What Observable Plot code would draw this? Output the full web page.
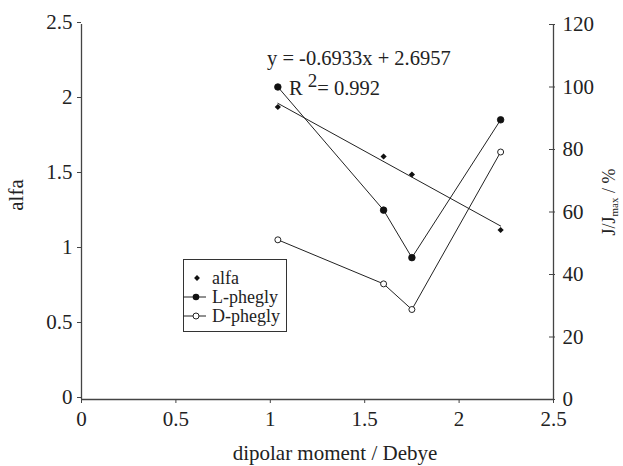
<!DOCTYPE html>
<html><head><meta charset="utf-8">
<script src="https://cdn.jsdelivr.net/npm/d3@7"></script>
<script src="https://cdn.jsdelivr.net/npm/@observablehq/plot@0.6"></script>
<style>body{margin:0;background:#fff} svg{display:block} svg text{font-family:"Liberation Serif","Times New Roman",Times,serif !important}</style>
</head><body><div id="chart"></div>
<script>
const dipole = [1.04, 1.60, 1.75, 2.22];
const alfa = [1.95, 1.62, 1.50, 1.13];
const lPhegly = [100, 60.6, 45.4, 89.5];
const dPhegly = [51.1, 37.0, 28.8, 79.2];
const xTicks = [0, 0.5, 1, 1.5, 2, 2.5];
const yLeftTicks = [0, 0.5, 1, 1.5, 2, 2.5];
const yRightTicks = [0, 20, 40, 60, 80, 100, 120];
const slope = -0.6933, intercept = 2.6957, rSquared = 0.992;
const seriesNames = ["alfa", "L-phegly", "D-phegly"];

const W = 623, H = 466, ML = 81, MR = 70, MT = 24, MB = 67;
const k = 2.5 / 120; // right axis (%) -> left axis units
const FONT = '"Liberation Serif", "Times New Roman", Times, serif';
const INK = "#222";
const fmt = d => String(+d.toFixed(4));

const alfaData = dipole.map((x, i) => ({x, y: alfa[i]}));
const lData = dipole.map((x, i) => ({x, y: lPhegly[i] * k}));
const dData = dipole.map((x, i) => ({x, y: dPhegly[i] * k}));
const xMin = d3.min(dipole), xMax = d3.max(dipole);
const trend = [xMin, xMax].map(x => ({x, y: slope * x + intercept}));

const plot = Plot.plot({
  width: W, height: H,
  marginLeft: ML, marginRight: MR, marginTop: MT, marginBottom: MB,
  style: {fontFamily: FONT, background: "#fff", color: INK},
  x: {domain: [0, 2.5]},
  y: {domain: [0, 2.5]},
  marks: [
    Plot.axisX({ticks: xTicks, tickFormat: fmt, tickSize: 4, tickPadding: 8, fontSize: 21, fontFamily: FONT, label: null, stroke: "#444", fill: INK}),
    Plot.axisY({anchor: "left", ticks: yLeftTicks, tickFormat: fmt, tickSize: 4, tickPadding: 5, fontSize: 21, fontFamily: FONT, label: null, dy: -2, stroke: "#444", fill: INK}),
    Plot.axisY({anchor: "right", ticks: yRightTicks.map(v => v * k), tickFormat: d => Math.round(d / k), tickSize: 1, tickPadding: 8, fontSize: 21, fontFamily: FONT, label: null, stroke: "#444", fill: INK}),
    Plot.tickY(yRightTicks.map(v => v * k), {y: d => d, insetLeft: W - ML - MR - 4, stroke: "#444"}),
    Plot.ruleY([0], {stroke: "#444", strokeWidth: 1.3}),
    Plot.ruleX([0, 2.5], {stroke: "#444", strokeWidth: 1.3}),
    Plot.line(trend, {x: "x", y: "y", stroke: INK, strokeWidth: 1}),
    Plot.line(lData, {x: "x", y: "y", stroke: INK, strokeWidth: 1}),
    Plot.line(dData, {x: "x", y: "y", stroke: INK, strokeWidth: 1}),
    Plot.dot(alfaData, {x: "x", y: "y", symbol: "diamond2", r: 2.8, fill: "#111", stroke: "none"}),
    Plot.dot(lData, {x: "x", y: "y", r: 3.3, fill: "#111", stroke: "#111", strokeWidth: 0.8}),
    Plot.dot(dData, {x: "x", y: "y", r: 3, fill: "#fff", stroke: INK, strokeWidth: 1})
  ]
});
document.getElementById("chart").append(plot);

const svg = d3.select(plot);
const addText = (sel) => sel.attr("font-family", FONT).attr("fill", INK);
// axis titles
addText(svg.append("text")).attr("transform", "translate(23,195) rotate(-90)")
  .attr("text-anchor", "middle").attr("font-size", 21).text("alfa");
addText(svg.append("text")).attr("x", 335).attr("y", 460)
  .attr("text-anchor", "middle").attr("font-size", 21).text("dipolar moment / Debye");
const rt = addText(svg.append("text")).attr("transform", "translate(615,202) rotate(-90)")
  .attr("text-anchor", "middle").attr("font-size", 18);
rt.append("tspan").text("J/J");
rt.append("tspan").attr("font-size", 11).attr("dy", 3).text("max");
rt.append("tspan").attr("dy", -3).text(" / %");

// regression annotation
addText(svg.append("text")).attr("x", 267).attr("y", 65).attr("text-anchor", "start").attr("font-size", 20.5)
  .text(`y = ${slope}x + ${intercept}`);
const r2 = addText(svg.append("text")).attr("x", 289).attr("y", 95).attr("text-anchor", "start").attr("font-size", 20.5);
r2.append("tspan").text("R ");
r2.append("tspan").attr("dy", -8).attr("font-size", 19).text("2");
r2.append("tspan").attr("dy", 8).text("= " + rSquared);

// legend
const lg = svg.append("g").attr("font-family", FONT).attr("font-size", 18).attr("fill", INK).attr("text-anchor", "start");
lg.append("rect").attr("x", 183.5).attr("y", 259.5).attr("width", 103).attr("height", 72)
  .attr("fill", "#fff").attr("stroke", "#333").attr("stroke-width", 1);
const rows = [278, 297, 316];
seriesNames.forEach((name, i) => {
  const yy = rows[i];
  if (i > 0) lg.append("line").attr("x1", 183).attr("x2", 206).attr("y1", yy).attr("y2", yy).attr("stroke", INK);
  if (i === 0) lg.append("path").attr("d", d3.symbol(d3.symbolDiamond2, 22)()).attr("transform", `translate(197,${yy})`).attr("fill", "#111");
  if (i === 1) lg.append("circle").attr("cx", 196).attr("cy", yy).attr("r", 3.3).attr("fill", "#111");
  if (i === 2) lg.append("circle").attr("cx", 196).attr("cy", yy).attr("r", 3).attr("fill", "#fff").attr("stroke", INK);
  lg.append("text").attr("x", 212).attr("y", yy).attr("dy", "0.32em").attr("text-anchor", "start").text(name);
});
</script>
</body></html>
